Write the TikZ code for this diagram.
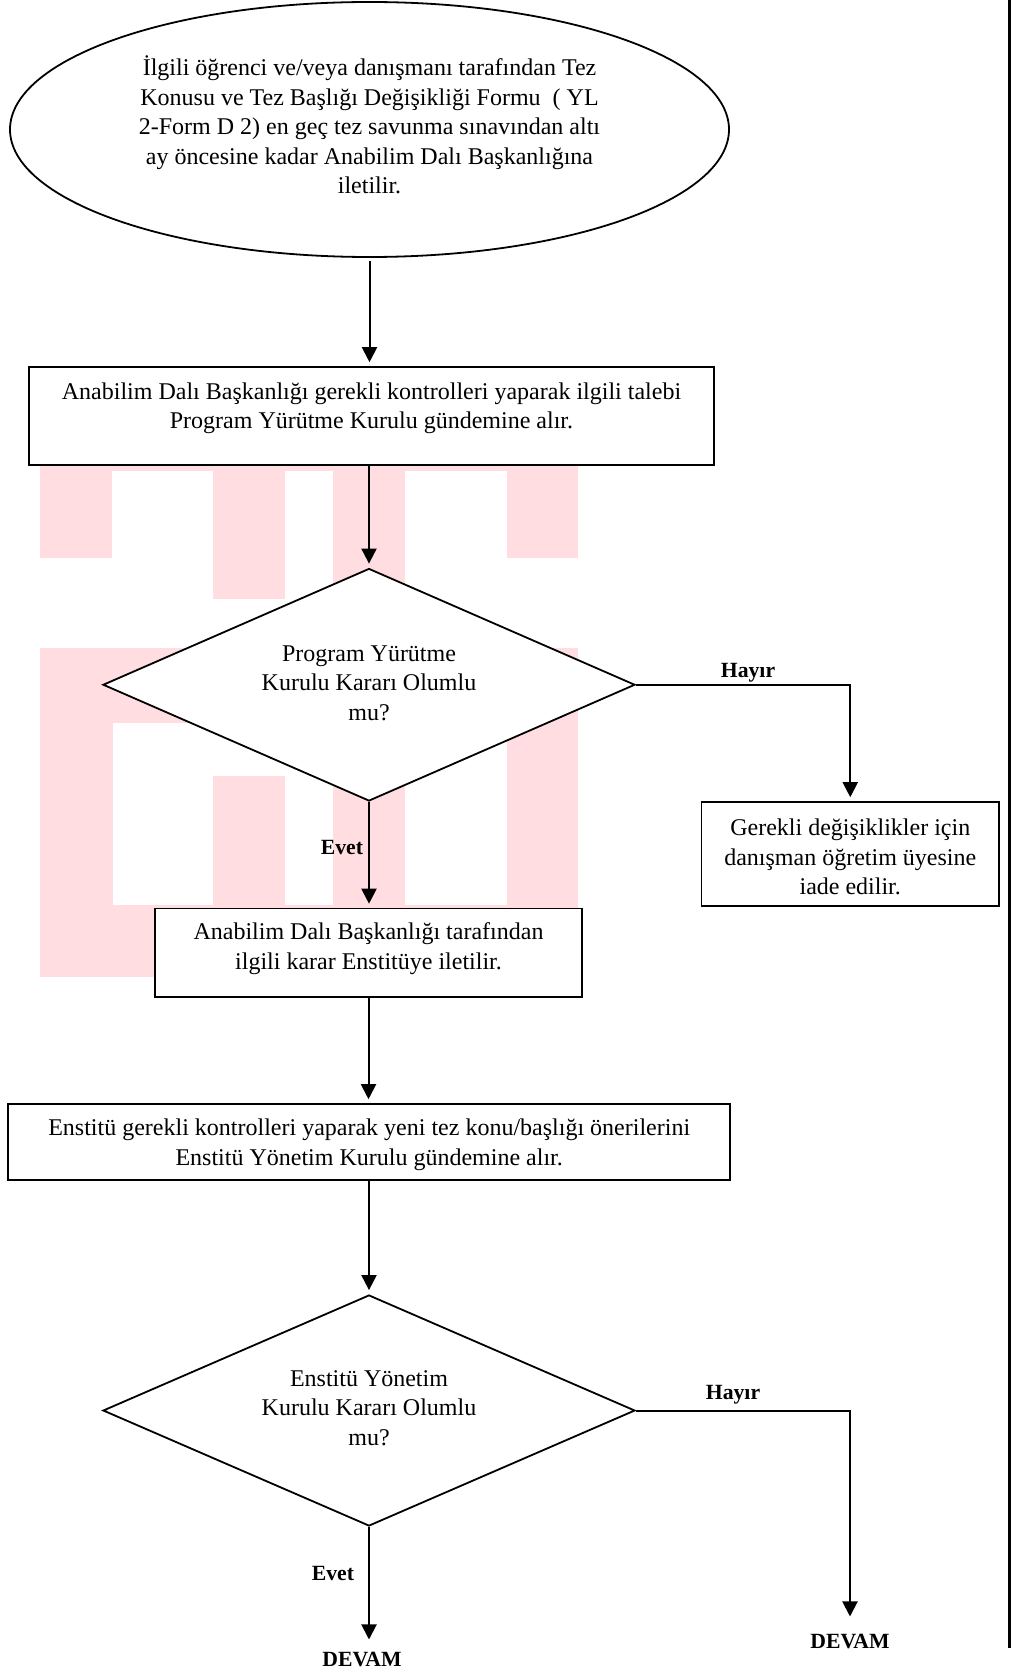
\documentclass[tikz,border=0pt]{standalone}
\usepackage{fontspec}
\setmainfont{Liberation Serif}
\usetikzlibrary{shapes.geometric,arrows.meta}
\definecolor{wm}{RGB}{255,221,225}
\begin{document}
\begin{tikzpicture}[x=1pt,y=-1pt,
  every node/.style={font=\fontsize{24}{29.5}\selectfont, text=black},
  procbox/.style={draw, line width=1.6pt, fill=white, rectangle, inner sep=0pt, align=center},
  decision/.style={draw, line width=1.8pt, fill=white, diamond, inner sep=0pt, align=center},
  startshape/.style={draw, line width=1.8pt, fill=white, ellipse, inner sep=0pt, align=center},
  txt/.style={align=center, inner sep=0pt},
  lbl/.style={font=\fontsize{21.7}{25}\selectfont\bfseries, inner sep=0pt},
  arr/.style={-{Triangle[length=15pt,width=15pt]}, line width=2pt, shorten >=4pt}
]
\useasboundingbox (0,0) rectangle (1011,1669);
% watermark
\fill[wm] (40,440) rectangle (578,471);
\fill[wm] (40,471) rectangle (112,558);
\fill[wm] (213,471) rectangle (285,599);
\fill[wm] (333,471) rectangle (405,648);
\fill[wm] (507,471) rectangle (578,558);
\fill[wm] (40,648) rectangle (578,723);
\fill[wm] (40,723) rectangle (113,977);
\fill[wm] (213,776) rectangle (285,905);
\fill[wm] (333,723) rectangle (405,905);
\fill[wm] (507,723) rectangle (578,977);
\fill[wm] (40,905) rectangle (578,977);
% right border
\draw[line width=2.7pt] (1009.5,0) -- (1009.5,1648);
% nodes
\node[startshape, minimum width=719pt, minimum height=255pt] (start) at (369.5,129.5) {};
\node[txt] (startt) at (369.5,125) {İlgili öğrenci ve/veya danışmanı tarafından Tez\\ Konusu ve Tez Başlığı Değişikliği Formu \ ( YL\\ 2-Form D 2) en geç tez savunma sınavından altı\\ ay öncesine kadar Anabilim Dalı Başkanlığına\\ iletilir.};
\node[procbox, minimum width=685pt, minimum height=98pt] (b1) at (371.5,416) {};
\node[txt] (b1t) at (371.5,408.5) {Anabilim Dalı Başkanlığı gerekli kontrolleri yaparak ilgili talebi\\ Program Yürütme Kurulu gündemine alır.};
\node[decision, minimum width=532pt, minimum height=232.5pt] (d1) at (369,684.75) {};
\node[txt] (d1t) at (369,683) {Program Yürütme\\ Kurulu Kararı Olumlu\\ mu?};
\node[procbox, minimum width=297.5pt, minimum height=104pt] (sb) at (850.25,854) {};
\node[txt] (sbt) at (850.25,857) {Gerekli değişiklikler için\\ danışman öğretim üyesine\\ iade edilir.};
\node[procbox, minimum width=427pt, minimum height=88.5pt] (b2) at (368.5,952.75) {};
\node[txt] (b2t) at (368.5,948.5) {Anabilim Dalı Başkanlığı tarafından\\ ilgili karar Enstitüye iletilir.};
\node[procbox, minimum width=722pt, minimum height=76pt] (b3) at (369.2,1142) {};
\node[txt] (b3t) at (369.2,1145) {Enstitü gerekli kontrolleri yaparak yeni tez konu/başlığı önerilerini\\ Enstitü Yönetim Kurulu gündemine alır.};
\node[decision, minimum width=532pt, minimum height=231pt] (d2) at (369,1410.5) {};
\node[txt] (d2t) at (369,1408) {Enstitü Yönetim\\ Kurulu Kararı Olumlu\\ mu?};
% labels
\node[lbl] (hy1) at (748,672.6) {Hayır};
\node[lbl] (ev1) at (342,847.5) {Evet};
\node[lbl] (hy2) at (733,1394.6) {Hayır};
\node[lbl] (ev2) at (333,1573.5) {Evet};
\node[lbl, inner ysep=8pt] (devL) at (362,1659) {DEVAM};
\node[lbl, inner ysep=13pt] (devR) at (850,1641) {DEVAM};
% connectors
\draw[arr, shorten <=3pt] (start.south) -- (start.south |- b1.north);
\draw[arr] (d1.north |- b1.south) -- (d1.north);
\draw[arr] (d1.south) -- (d1.south |- b2.north);
\draw[arr] (b2.south) -- (b2.south |- b3.north);
\draw[arr] (d2.north |- b3.south) -- (d2.north);
\draw[arr] (d1.east) -| (sb.north);
\draw[arr] (d2.east) -| (devR.north);
\draw[arr] (d2.south) -- (d2.south |- devL.north);
\end{tikzpicture}
\end{document}
